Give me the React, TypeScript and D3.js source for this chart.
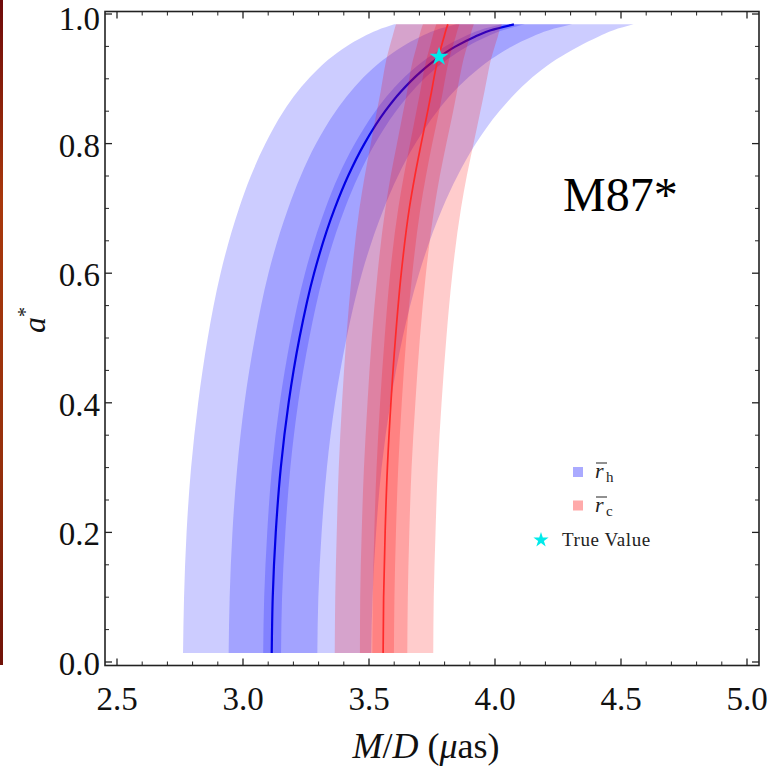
import React from "react";
import * as d3 from "d3";

// spin parameter grid (a*)
const spin = [0.014, 0.1, 0.2, 0.3, 0.4, 0.5, 0.6, 0.7, 0.75, 0.8, 0.85, 0.88, 0.91, 0.93, 0.95, 0.965, 0.975, 0.984];

// horizon-size relation (blue), M/D in μas
const blueCenter = [3.114, 3.118, 3.130, 3.150, 3.181, 3.224, 3.282, 3.364, 3.417, 3.482, 3.564, 3.626, 3.703, 3.766, 3.844, 3.920, 3.983, 4.075];
const blueWideLo = [2.762, 2.766, 2.776, 2.794, 2.822, 2.860, 2.911, 2.984, 3.031, 3.089, 3.161, 3.216, 3.285, 3.340, 3.410, 3.477, 3.533, 3.600];
const blueWideHi = [3.509, 3.514, 3.528, 3.550, 3.585, 3.633, 3.699, 3.791, 3.851, 3.924, 4.017, 4.087, 4.173, 4.244, 4.332, 4.410, 4.470, 4.550];
const blueMidLo = [2.943, 2.947, 2.958, 2.977, 3.006, 3.047, 3.101, 3.179, 3.229, 3.290, 3.368, 3.427, 3.499, 3.559, 3.633, 3.704, 3.764, 3.846];
const blueMidHi = [3.295, 3.299, 3.312, 3.333, 3.365, 3.411, 3.472, 3.559, 3.615, 3.684, 3.771, 3.836, 3.918, 3.984, 4.067, 4.147, 4.214, 4.306];
const blueNarLo = [3.080, 3.084, 3.096, 3.115, 3.146, 3.189, 3.246, 3.327, 3.379, 3.444, 3.525, 3.586, 3.662, 3.725, 3.802, 3.877, 3.939, 4.025];
const blueNarHi = [3.151, 3.155, 3.168, 3.188, 3.219, 3.263, 3.321, 3.404, 3.458, 3.524, 3.607, 3.670, 3.747, 3.811, 3.890, 3.967, 4.031, 4.119];

// critical-curve relation (red)
const redCenter = [3.556, 3.558, 3.564, 3.573, 3.587, 3.605, 3.628, 3.660, 3.682, 3.707, 3.733, 3.748, 3.762, 3.773, 3.787, 3.798, 3.805, 3.813];
const redWideLo = [3.364, 3.366, 3.372, 3.380, 3.393, 3.410, 3.432, 3.462, 3.483, 3.507, 3.531, 3.546, 3.559, 3.569, 3.582, 3.593, 3.600, 3.607];
const redWideHi = [3.755, 3.757, 3.764, 3.773, 3.788, 3.807, 3.831, 3.865, 3.888, 3.915, 3.942, 3.958, 3.973, 3.984, 3.999, 4.011, 4.018, 4.027];
const redMidLo = [3.464, 3.465, 3.471, 3.480, 3.494, 3.511, 3.534, 3.565, 3.586, 3.611, 3.636, 3.651, 3.664, 3.675, 3.689, 3.699, 3.706, 3.714];
const redMidHi = [3.652, 3.654, 3.660, 3.669, 3.684, 3.702, 3.726, 3.759, 3.781, 3.807, 3.834, 3.849, 3.864, 3.875, 3.889, 3.901, 3.908, 3.916];
const redNarLo = [3.513, 3.515, 3.521, 3.530, 3.544, 3.562, 3.584, 3.616, 3.638, 3.663, 3.688, 3.703, 3.717, 3.728, 3.742, 3.752, 3.759, 3.767];
const redNarHi = [3.599, 3.601, 3.607, 3.616, 3.630, 3.648, 3.672, 3.704, 3.726, 3.751, 3.778, 3.793, 3.807, 3.818, 3.832, 3.844, 3.851, 3.859];

// true value
const trueMD = [3.778];
const trueSpin = [0.934];

// ticks
const xMajor = [2.5, 3.0, 3.5, 4.0, 4.5, 5.0];
const xMajorLabels = ["2.5", "3.0", "3.5", "4.0", "4.5", "5.0"];
const yMajor = [0, 0.2, 0.4, 0.6, 0.8, 1.0];
const yMajorLabels = ["0.0", "0.2", "0.4", "0.6", "0.8", "1.0"];

const SERIF = "'Liberation Serif', 'Times New Roman', serif";

export default function App() {
  const W = 775, H = 773;
  const fl = 105, fr = 759, ft = 11.5, fb = 665.5;
  const x = d3.scaleLinear().domain([2.5, 5.0]).range([117, 747]);
  const y = d3.scaleLinear().domain([0, 1]).range([662, 14]);

  const band = (lo: number[], hi: number[]) =>
    d3.area<number>()
      .y((d) => y(d))
      .x0((_, i) => x(lo[i]))
      .x1((_, i) => x(hi[i]))
      .curve(d3.curveMonotoneY)(spin) as string;
  const line = (c: number[]) =>
    d3.line<number>()
      .y((d) => y(d))
      .x((_, i) => x(c[i]))
      .curve(d3.curveMonotoneY)(spin) as string;

  const xMinor = d3.range(25, 51).map((v) => v / 10).filter((v) => !xMajor.some((m) => Math.abs(m - v) < 1e-6));
  const yMinor = d3.range(0, 21).map((v) => v / 20).filter((v) => !yMajor.some((m) => Math.abs(m - v) < 1e-6));

  const star = (r: number) => d3.symbol().type(d3.symbolStar).size((r * r) / 0.8908130915292852)() as string;

  const tickColor = "#222";
  const ticks: JSX.Element[] = [];
  xMajor.forEach((v, i) => {
    ticks.push(<line key={"xb" + i} x1={x(v)} x2={x(v)} y1={fb} y2={fb - 7} stroke={tickColor} strokeWidth={1.3} />);
    ticks.push(<line key={"xt" + i} x1={x(v)} x2={x(v)} y1={ft} y2={ft + 7} stroke={tickColor} strokeWidth={1.3} />);
  });
  xMinor.forEach((v, i) => {
    ticks.push(<line key={"xbm" + i} x1={x(v)} x2={x(v)} y1={fb} y2={fb - 4} stroke={tickColor} strokeWidth={1} />);
    ticks.push(<line key={"xtm" + i} x1={x(v)} x2={x(v)} y1={ft} y2={ft + 4} stroke={tickColor} strokeWidth={1} />);
  });
  yMajor.forEach((v, i) => {
    ticks.push(<line key={"yl" + i} x1={fl} x2={fl + 7} y1={y(v)} y2={y(v)} stroke={tickColor} strokeWidth={1.3} />);
    ticks.push(<line key={"yr" + i} x1={fr} x2={fr - 7} y1={y(v)} y2={y(v)} stroke={tickColor} strokeWidth={1.3} />);
  });
  yMinor.forEach((v, i) => {
    ticks.push(<line key={"ylm" + i} x1={fl} x2={fl + 4} y1={y(v)} y2={y(v)} stroke={tickColor} strokeWidth={1} />);
    ticks.push(<line key={"yrm" + i} x1={fr} x2={fr - 4} y1={y(v)} y2={y(v)} stroke={tickColor} strokeWidth={1} />);
  });

  const blueFill = "#0000ff";
  const redFill = "#ff0000";
  const op = 0.2;

  return (
    <svg width={W} height={H} style={{ position: "absolute", left: 0, top: 0, background: "#fff" }} fontFamily={SERIF}>
      <defs>
        <linearGradient id="edgebar" x1="0" y1="0" x2="0" y2="1">
          <stop offset="0" stopColor="#6e0a0a" />
          <stop offset="0.3" stopColor="#a8380c" />
          <stop offset="0.7" stopColor="#96300c" />
          <stop offset="1" stopColor="#701208" />
        </linearGradient>
        <clipPath id="plotclip">
          <rect x={fl} y={ft} width={fr - fl} height={fb - ft} />
        </clipPath>
      </defs>
      <rect x={0} y={0} width={W} height={H} fill="#fff" />
      <rect x={0} y={0} width={3} height={665} fill="url(#edgebar)" />

      <g clipPath="url(#plotclip)">
        <path d={band(blueWideLo, blueWideHi)} fill={blueFill} fillOpacity={op} />
        <path d={band(blueMidLo, blueMidHi)} fill={blueFill} fillOpacity={op} />
        <path d={band(blueNarLo, blueNarHi)} fill={blueFill} fillOpacity={op} />
        <path d={line(blueCenter)} fill="none" stroke="#0000e6" strokeWidth={2.2} />
        <path d={band(redWideLo, redWideHi)} fill={redFill} fillOpacity={op} />
        <path d={band(redMidLo, redMidHi)} fill={redFill} fillOpacity={op} />
        <path d={band(redNarLo, redNarHi)} fill={redFill} fillOpacity={op} />
        <path d={line(redCenter)} fill="none" stroke="#ff2a2a" strokeWidth={1.7} />
        {trueMD.map((m, i) => (
          <path key={"st" + i} d={star(10)} transform={`translate(${x(m)},${y(trueSpin[i])})`} fill="#00eaea" />
        ))}
      </g>

      <rect x={fl} y={ft} width={fr - fl} height={fb - ft} fill="none" stroke="#222" strokeWidth={1.6} />
      {ticks}

      {xMajor.map((v, i) => (
        <text key={"xl" + i} x={x(v)} y={710} fontSize={33} textAnchor="middle" fill="#111">{xMajorLabels[i]}</text>
      ))}
      {yMajor.map((v, i) => (
        <text key={"yl" + i} x={100} y={Math.max(y(v) + 13, 30)} fontSize={33} textAnchor="end" fill="#111">{yMajorLabels[i]}</text>
      ))}

      <text x={426} y={758} fontSize={36} textAnchor="middle" fill="#111">
        <tspan fontStyle="italic">M</tspan>
        <tspan>/</tspan>
        <tspan fontStyle="italic">D</tspan>
        <tspan> (</tspan>
        <tspan fontStyle="italic">μ</tspan>
        <tspan>as)</tspan>
      </text>

      <g transform="translate(45,320) rotate(-90)">
        <text x={0} y={0} fontSize={32} textAnchor="middle" fill="#111">
          <tspan fontStyle="italic">a</tspan>
          <tspan fontSize={20} dy={-13}>*</tspan>
        </text>
      </g>

      <text x={563} y={211} fontSize={48} fill="#000">M87*</text>

      {/* legend */}
      <rect x={573} y={467} width={10} height={10} fill="#aaaaff" />
      <line x1={596} x2={607} y1={463} y2={463} stroke="#222" strokeWidth={1} />
      <text x={595} y={478} fontSize={22} fill="#222" fontStyle="italic">r</text>
      <text x={606} y={482} fontSize={15} fill="#222">h</text>

      <rect x={573} y={500.5} width={10} height={10} fill="#ffaaaa" />
      <line x1={596} x2={607} y1={497} y2={497} stroke="#222" strokeWidth={1} />
      <text x={595} y={512} fontSize={22} fill="#222" fontStyle="italic">r</text>
      <text x={606} y={516} fontSize={15} fill="#222">c</text>

      <path d={star(8)} transform="translate(541,540)" fill="#00eaea" />
      <text x={562} y={546} fontSize={19} fill="#222" letterSpacing={0.6}>True Value</text>
    </svg>
  );
}
